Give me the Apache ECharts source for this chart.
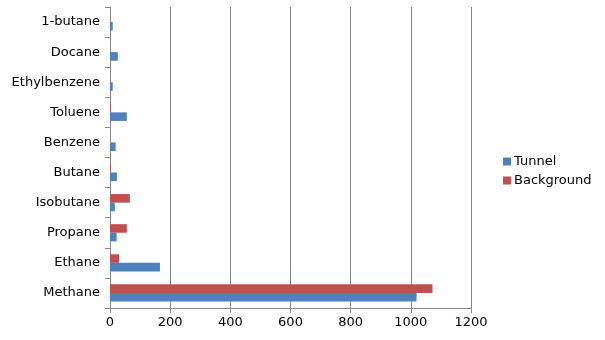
<!DOCTYPE html>
<html><head><meta charset="utf-8">
<script src="https://cdn.jsdelivr.net/npm/echarts@6/dist/echarts.min.js"></script>
<style>html,body{margin:0;padding:0;background:#fff}#c{width:605px;height:340px}</style>
</head><body><div id="c"></div>
<script>
const categories = ['Methane','Ethane','Propane','Isobutane','Butane','Benzene','Toluene','Ethylbenzene','Docane','1-butane'];
const tunnel = [1019, 166, 22, 16, 23, 19, 56, 9, 26, 9];
const background = [1072, 30, 56, 66, 3, 0, 3, 0, 0, 0];
const xTicks = {min: 0, max: 1200, interval: 200};

const chart = echarts.init(document.getElementById('c'));
const font = 'DejaVu Sans';
chart.setOption({
  animation: false,
  textStyle: {fontFamily: font},
  grid: {left: 110, right: 134, top: 7, bottom: 32, containLabel: false},
  legend: {
    orient: 'vertical', left: 498, top: 150, itemWidth: 8, itemHeight: 8, itemGap: 6,
    icon: 'rect',
    textStyle: {fontFamily: font, fontSize: 13, color: '#000', padding: [0,0,0,-2]},
    data: ['Tunnel', 'Background']
  },
  xAxis: {
    type: 'value', min: xTicks.min, max: xTicks.max, interval: xTicks.interval,
    axisLine: {show: true, lineStyle: {color: '#868686', width: 1}},
    axisTick: {show: true, length: 5, lineStyle: {color: '#868686'}},
    axisLabel: {color: '#000', fontSize: 13, fontFamily: font, margin: 8, formatter: v => String(v)},
    splitLine: {show: true, lineStyle: {color: '#868686', width: 1}}
  },
  yAxis: {
    type: 'category', data: categories,
    axisLine: {show: true, lineStyle: {color: '#868686', width: 1}},
    axisTick: {show: true, length: 5, lineStyle: {color: '#868686'}},
    axisLabel: {color: '#000', fontSize: 13, fontFamily: font, margin: 10}
  },
  series: [
    {name: 'Background', type: 'bar', data: background, itemStyle: {color: '#C0504D'}, barGap: '0%', barCategoryGap: '43%'},
    {name: 'Tunnel', type: 'bar', data: tunnel, itemStyle: {color: '#4F81BD'}, barGap: '0%', barCategoryGap: '43%'}
  ]
});
</script></body></html>
